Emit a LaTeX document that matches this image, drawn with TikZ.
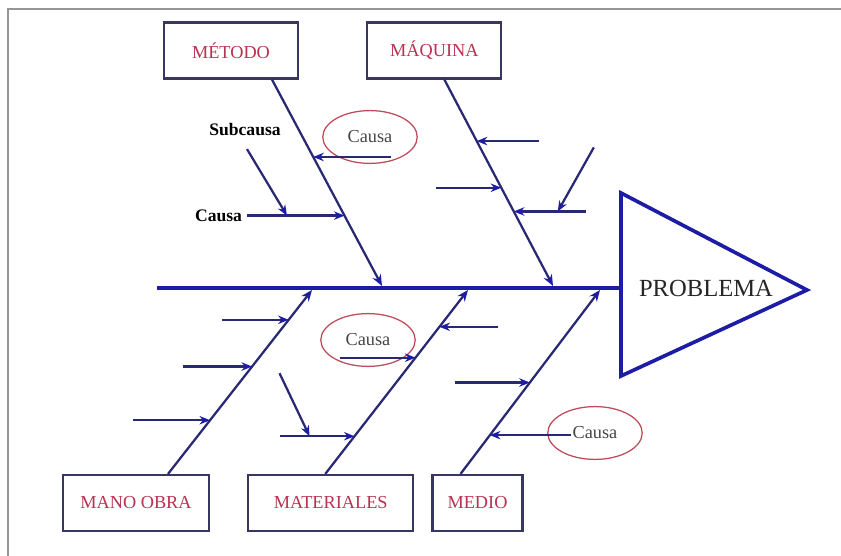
\documentclass[tikz,border=0pt]{standalone}
\usepackage{fontspec}
\setmainfont{Liberation Serif}
\usetikzlibrary{positioning, shapes.geometric, arrows.meta, calc}
\definecolor{spineblue}{RGB}{28,28,165}
\definecolor{bonenavy}{RGB}{40,40,115}
\definecolor{boxedge}{RGB}{55,55,95}
\definecolor{catred}{RGB}{185,50,80}
\definecolor{ovalred}{RGB}{190,75,90}
\definecolor{causegray}{RGB}{70,70,70}
\definecolor{framegray}{RGB}{150,150,150}
\tikzstyle{category} = [rectangle, draw=boxedge, line width=1.5pt, minimum height=1.4cm, text=catred, font=\fontsize{13}{15}\selectfont]
\tikzstyle{cause} = [ellipse, draw=ovalred, line width=0.9pt, minimum width=2.36cm, minimum height=1.32cm, inner sep=0pt, text=causegray, font=\fontsize{13}{15}\selectfont]
\tikzstyle{tag} = [text=black, font=\bfseries\fontsize{12.5}{15}\selectfont]
\tikzstyle{spine} = [draw=spineblue, line width=2.6pt]
\tikzstyle{bone} = [draw=bonenavy, line width=1.6pt, -{Stealth[length=8pt, width=6.5pt, color=spineblue]}]
\tikzstyle{arrow} = [draw=bonenavy, line width=1.6pt, -{Stealth[length=7.5pt, width=6pt, color=spineblue]}]

\begin{document}
\begin{tikzpicture}[x=0.025cm, y=-0.025cm]
	\useasboundingbox (0,0) rectangle (841,556);
	\draw [framegray, line width=1.5pt] (8,556) -- (8,9) -- (841,9);

	% Nodes
	\node (metodo) [category, minimum width=3.35cm] at (231,50.5) {MÉTODO};
	\node (maquina) [category, minimum width=3.35cm, right=1.68cm of metodo] {MÁQUINA};
	\node (manoobra) [category, minimum width=3.65cm] at (136,503) {MANO OBRA};
	\node (materiales) [category, minimum width=4.12cm, right=0.93cm of manoobra] {MATERIALES};
	\node (medio) [category, minimum width=2.25cm, right=0.43cm of materiales] {MEDIO};

	\node (problema) [text=black!85, font=\fontsize{17.5}{20}\selectfont] at (706,288) {PROBLEMA};

	\node (causa_met) [cause] at (370,137) {Causa};
	\node (causa_mat) [cause] at (368,340) {Causa};
	\node (causa_med) [cause] at (595,433) {Causa};

	% Head and spine
	\coordinate (tail) at (157,288);
	\coordinate (tri_top) at (621,193);
	\coordinate (tri_tip) at (807,290);
	\coordinate (tri_bot) at (621,376);
	\draw [spine] (tri_top) -- (tri_tip) -- (tri_bot) -- cycle;
	\draw [spine] (tail) -- (tail -| tri_top);

	% Main bones
	\coordinate (metodo_head) at (382,286);
	\coordinate (maquina_head) at (553,286);
	\coordinate (manoobra_head) at (312,290);
	\coordinate (materiales_head) at (468,290);
	\coordinate (medio_head) at (600,290);
	\draw [bone] ($(metodo.south)+(41,0)$) coordinate (metodo_root) -- (metodo_head);
	\draw [bone] ($(maquina.south)+(10,0)$) coordinate (maquina_root) -- (maquina_head);
	\draw [bone] ($(manoobra.north)+(32,0)$) coordinate (manoobra_root) -- (manoobra_head);
	\draw [bone] ($(materiales.north)+(-5.5,0)$) coordinate (materiales_root) -- (materiales_head);
	\draw [bone] ($(medio.north)+(-17,0)$) coordinate (medio_root) -- (medio_head);

	% Points on the bones
	\coordinate (mt1) at ($(metodo_root)!0.375!(metodo_head)$);
	\coordinate (mt2) at ($(metodo_root)!0.659!(metodo_head)$);
	\coordinate (mq1) at ($(maquina_root)!0.298!(maquina_head)$);
	\coordinate (mq2) at ($(maquina_root)!0.524!(maquina_head)$);
	\coordinate (mq3) at ($(maquina_root)!0.639!(maquina_head)$);
	\coordinate (mo1) at ($(manoobra_root)!0.838!(manoobra_head)$);
	\coordinate (mo2) at ($(manoobra_root)!0.584!(manoobra_head)$);
	\coordinate (mo3) at ($(manoobra_root)!0.292!(manoobra_head)$);
	\coordinate (ma1) at ($(materiales_root)!0.632!(materiales_head)$);
	\coordinate (ma2) at ($(materiales_root)!0.8!(materiales_head)$);
	\coordinate (ma3) at ($(materiales_root)!0.205!(materiales_head)$);
	\coordinate (me1) at ($(medio_root)!0.497!(medio_head)$);
	\coordinate (me2) at ($(medio_root)!0.211!(medio_head)$);

	% Labels
	\node (subcausa) [tag] at (245,130) {Subcausa};
	\node (causa_lbl) [tag, anchor=east] at ($(mt2)+(-97.5,0)$) {Causa};

	% Arrows
	\draw [arrow] ($(mt1)+(78,0)$) -- (mt1);
	\draw [arrow] (causa_lbl) -- (mt2);
	\draw [arrow] ($(mt2)+(-97.5,-66.5)$) -- ($(mt2)+(-57.5,0)$);

	\draw [arrow] ($(mq1)+(62,0)$) -- (mq1);
	\draw [arrow] ($(mq2)+(-65,0)$) -- (mq2);
	\draw [arrow] ($(mq3)+(72,0)$) -- (mq3);
	\draw [arrow] ($(mq3)+(80,-64)$) -- ($(mq3)+(44,0)$);

	\draw [arrow] ($(mo1)+(-67,0)$) -- (mo1);
	\draw [arrow] ($(mo2)+(-69,0)$) -- (mo2);
	\draw [arrow] ($(mo3)+(-77,0)$) -- (mo3);

	\draw [arrow] ($(ma1)+(-75,0)$) -- (ma1);
	\draw [arrow] ($(ma2)+(59,0)$) -- (ma2);
	\draw [arrow] ($(ma3)+(-75,0)$) -- (ma3);
	\draw [arrow] ($(ma3)+(-75,-63)$) -- ($(ma3)+(-45,0)$);

	\draw [arrow] ($(me1)+(-75,0)$) -- (me1);
	\draw [arrow] ($(me2)+(81,0)$) -- (me2);
\end{tikzpicture}
\end{document}
